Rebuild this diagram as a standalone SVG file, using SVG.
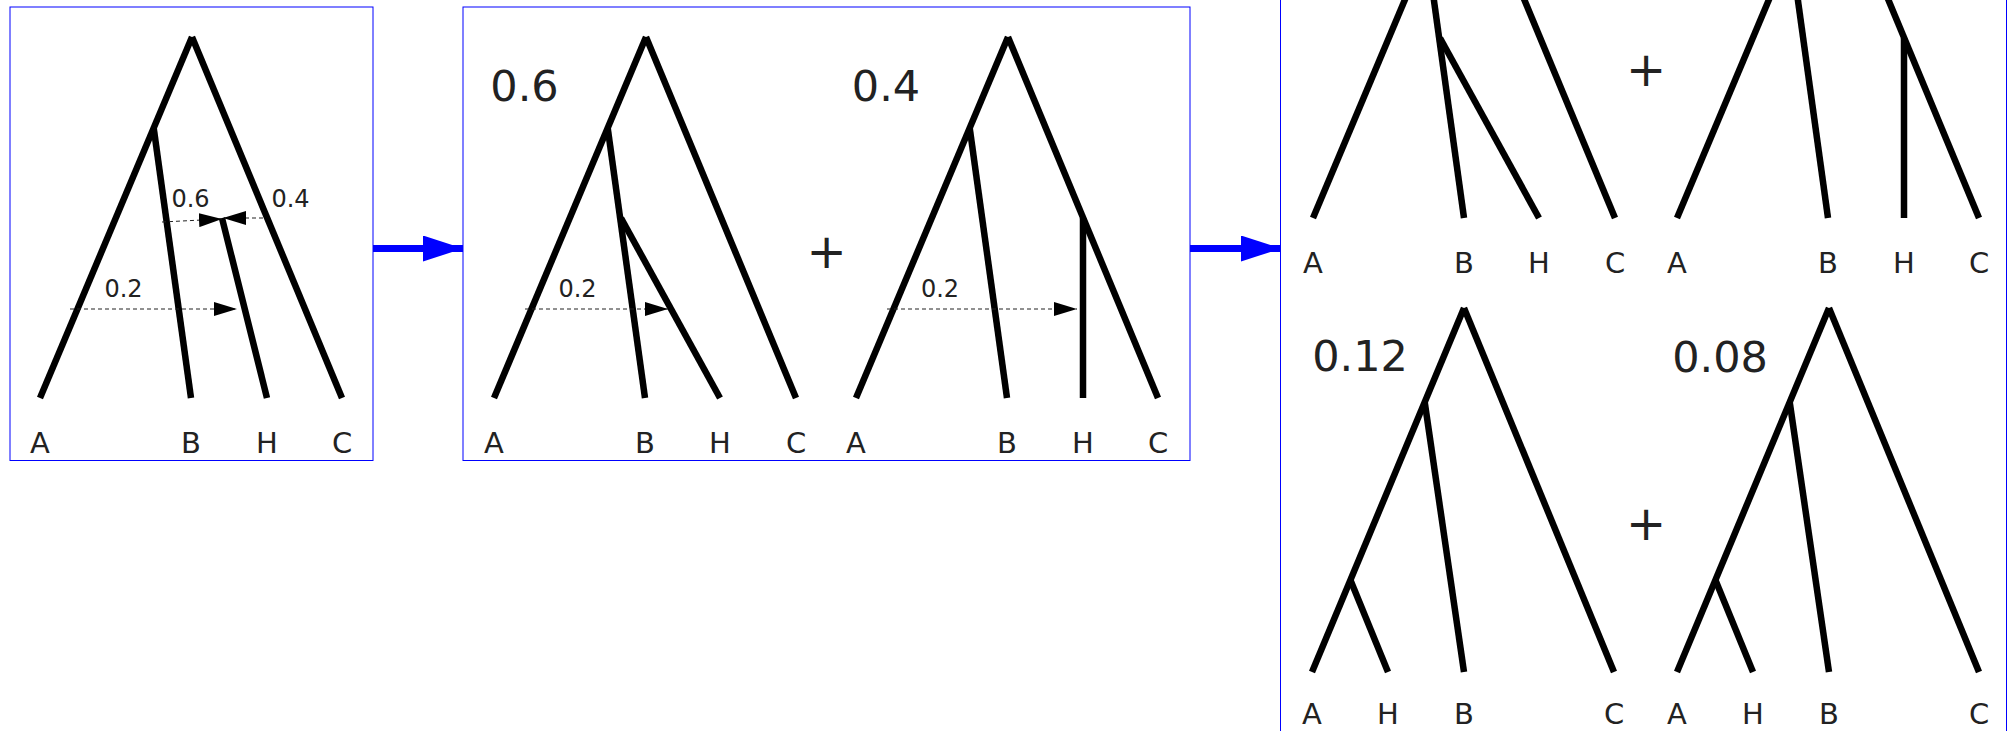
<svg xmlns="http://www.w3.org/2000/svg" width="2013" height="731" viewBox="0 0 2013 731">
<style>
.box{fill:none;stroke:#0000ff;stroke-width:1}
.br{stroke:#000;stroke-width:6.5;fill:none;stroke-linecap:butt}
.dash{stroke:#222;stroke-width:1;stroke-dasharray:4 3;fill:none;marker-end:url(#ah)}
.lbl{font-family:"DejaVu Sans",sans-serif;font-size:29px;fill:#222;text-anchor:middle}
.sm{font-family:"DejaVu Sans",sans-serif;font-size:24px;fill:#222;text-anchor:middle}
.big{font-family:"DejaVu Sans",sans-serif;font-size:43px;fill:#222;text-anchor:middle}
.plus{font-family:"DejaVu Sans",sans-serif;font-size:48px;fill:#222;text-anchor:middle}
.conn{stroke:#0000ff;stroke-width:7;fill:none;marker-end:url(#bh)}
</style>
<defs>
<marker id="ah" markerUnits="userSpaceOnUse" markerWidth="23" markerHeight="14" refX="23" refY="7" orient="auto">
<path d="M0,0 L23,7 L0,14 z" fill="#000"/>
</marker>
<marker id="bh" markerUnits="userSpaceOnUse" markerWidth="40" markerHeight="26" refX="40" refY="13" orient="auto">
<path d="M0,0 L40,13 L0,26 z" fill="#0000ff"/>
</marker>
</defs>
<rect width="2013" height="731" fill="#fff"/>

<g id="panel1">
<rect class="box" x="10" y="7" width="363" height="453.5"/>
<g id="tree1">
<line class="br" x1="192" y1="37" x2="40" y2="398"/>
<line class="br" x1="192" y1="37" x2="342" y2="398"/>
<line class="br" x1="153.7" y1="128" x2="191" y2="398"/>
<line class="br" x1="222" y1="218" x2="267" y2="398"/>
<line class="dash" x1="70" y1="309" x2="237" y2="309"/>
<line class="dash" x1="162" y1="222" x2="222" y2="219"/>
<line class="dash" x1="263" y1="218" x2="223" y2="218"/>
<text class="sm" x="123.5" y="297">0.2</text>
<text class="sm" x="190.5" y="207">0.6</text>
<text class="sm" x="290.5" y="207">0.4</text>
<text class="lbl" x="40" y="453">A</text>
<text class="lbl" x="191" y="453">B</text>
<text class="lbl" x="267" y="453">H</text>
<text class="lbl" x="342" y="453">C</text>
</g>
</g>

<g id="panel2">
<rect class="box" x="463" y="7" width="727" height="453.5"/>
<g id="tree2a" transform="translate(454,0)">
<line class="br" x1="192" y1="37" x2="40" y2="398"/>
<line class="br" x1="192" y1="37" x2="342" y2="398"/>
<line class="br" x1="153.7" y1="128" x2="191" y2="398"/>
<line class="br" x1="167" y1="218" x2="266" y2="398"/>
<line class="dash" x1="71" y1="309" x2="214" y2="309"/>
<text class="sm" x="123.5" y="297">0.2</text>
<text class="big" x="70.5" y="101">0.6</text>
<text class="lbl" x="40" y="453">A</text>
<text class="lbl" x="191" y="453">B</text>
<text class="lbl" x="266" y="453">H</text>
<text class="lbl" x="342" y="453">C</text>
</g>
<text class="plus" x="826.5" y="268">+</text>
<g id="tree2b" transform="translate(816,0)">
<line class="br" x1="192" y1="37" x2="40" y2="398"/>
<line class="br" x1="192" y1="37" x2="342" y2="398"/>
<line class="br" x1="153.7" y1="128" x2="191" y2="398"/>
<line class="br" x1="267" y1="218" x2="267" y2="398"/>
<line class="dash" x1="71" y1="309" x2="261" y2="309"/>
<text class="sm" x="124" y="297">0.2</text>
<text class="big" x="70" y="101">0.4</text>
<text class="lbl" x="40" y="453">A</text>
<text class="lbl" x="191" y="453">B</text>
<text class="lbl" x="267" y="453">H</text>
<text class="lbl" x="342" y="453">C</text>
</g>
</g>

<g id="panel3">
<rect class="box" x="1280.5" y="-10" width="726" height="760"/>
<g id="tree3a" transform="translate(1273,-180)">
<line class="br" x1="192" y1="37" x2="40" y2="398"/>
<line class="br" x1="192" y1="37" x2="342" y2="398"/>
<line class="br" x1="153.7" y1="128" x2="191" y2="398"/>
<line class="br" x1="167" y1="218" x2="266" y2="398"/>
<text class="lbl" x="40" y="453">A</text>
<text class="lbl" x="191" y="453">B</text>
<text class="lbl" x="266" y="453">H</text>
<text class="lbl" x="342" y="453">C</text>
</g>
<text class="plus" x="1646" y="86">+</text>
<g id="tree3b" transform="translate(1637,-180)">
<line class="br" x1="192" y1="37" x2="40" y2="398"/>
<line class="br" x1="192" y1="37" x2="342" y2="398"/>
<line class="br" x1="153.7" y1="128" x2="191" y2="398"/>
<line class="br" x1="267" y1="218" x2="267" y2="398"/>
<text class="lbl" x="40" y="453">A</text>
<text class="lbl" x="191" y="453">B</text>
<text class="lbl" x="267" y="453">H</text>
<text class="lbl" x="342" y="453">C</text>
</g>
<g id="tree4a">
<line class="br" x1="1464" y1="308" x2="1312" y2="672"/>
<line class="br" x1="1464" y1="308" x2="1614" y2="672"/>
<line class="br" x1="1424.7" y1="402" x2="1464" y2="672"/>
<line class="br" x1="1350.4" y1="580" x2="1388" y2="672"/>
<text class="big" x="1360" y="371">0.12</text>
<text class="lbl" x="1312" y="724">A</text>
<text class="lbl" x="1388" y="724">H</text>
<text class="lbl" x="1464" y="724">B</text>
<text class="lbl" x="1614" y="724">C</text>
</g>
<text class="plus" x="1646" y="540">+</text>
<g id="tree4b">
<line class="br" x1="1829" y1="308" x2="1677" y2="672"/>
<line class="br" x1="1829" y1="308" x2="1979" y2="672"/>
<line class="br" x1="1789.7" y1="402" x2="1829" y2="672"/>
<line class="br" x1="1715.4" y1="580" x2="1753" y2="672"/>
<text class="big" x="1720" y="372">0.08</text>
<text class="lbl" x="1677" y="724">A</text>
<text class="lbl" x="1753" y="724">H</text>
<text class="lbl" x="1829" y="724">B</text>
<text class="lbl" x="1979" y="724">C</text>
</g>
</g>

<g id="connectors">
<line class="conn" x1="373" y1="248.5" x2="463" y2="248.5"/>
<line class="conn" x1="1190" y1="248.5" x2="1281" y2="248.5"/>
</g>
</svg>
